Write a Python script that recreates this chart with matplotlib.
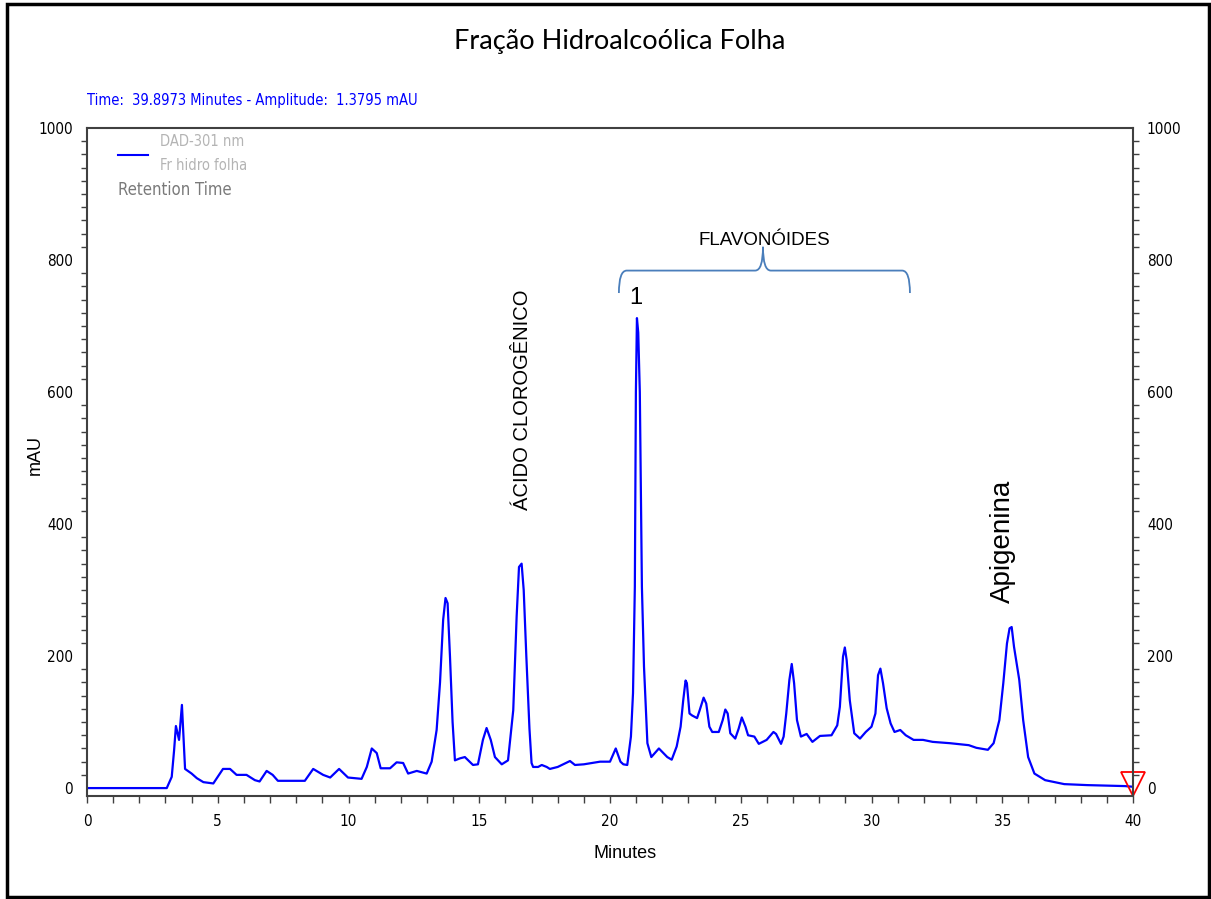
import matplotlib.pyplot as plt
from matplotlib.patches import Rectangle, PathPatch
from matplotlib.path import Path
from matplotlib.ticker import MultipleLocator, FixedLocator

# Cromatograma DAD-301 nm, fraccion hidroalcoolica da folha
tempo = [0, 3.05, 3.24, 3.33, 3.40, 3.52, 3.63, 3.75, 4.0, 4.2, 4.45, 4.83, 5.2, 5.47,
         5.72, 6.1, 6.42, 6.6, 6.87, 7.1, 7.3, 8.33, 8.65, 9.03, 9.3, 9.64, 9.98, 10.5,
         10.7, 10.89, 11.08, 11.23, 11.59, 11.84, 12.09, 12.28, 12.61, 12.99, 13.18,
         13.37, 13.5, 13.62, 13.71, 13.79, 13.88, 13.98, 14.07, 14.26, 14.45, 14.76, 14.95,
         15.14, 15.28, 15.44, 15.6, 15.86, 16.1, 16.3, 16.43, 16.52, 16.62, 16.7, 16.8,
         16.92, 17.0, 17.06, 17.25, 17.39, 17.58, 17.7, 18.0, 18.47, 18.66, 19.0, 19.62,
         20.0, 20.22, 20.4, 20.51, 20.66, 20.8, 20.88, 20.95, 20.99, 21.03, 21.08, 21.14,
         21.22, 21.3, 21.43, 21.58, 21.87, 22.19, 22.36, 22.55, 22.7, 22.8, 22.89, 22.94,
         23.04, 23.14, 23.33, 23.43, 23.58, 23.68, 23.8, 23.91, 24.16, 24.31, 24.41, 24.5,
         24.6, 24.79, 24.92, 25.04, 25.18, 25.28, 25.52, 25.69, 25.99, 26.25, 26.35, 26.54,
         26.64, 26.74, 26.86, 26.95, 27.04, 27.15, 27.3, 27.52, 27.74, 28.03, 28.47, 28.69,
         28.79, 28.91, 28.98, 29.05, 29.17, 29.34, 29.56, 29.78, 30.0, 30.15, 30.25, 30.34,
         30.44, 30.58, 30.73, 30.88, 31.1, 31.31, 31.61, 31.97, 32.34, 33.0, 33.72, 34.01,
         34.45, 34.67, 34.89, 35.04, 35.18, 35.28, 35.36, 35.45, 35.55, 35.65, 35.8, 35.99,
         36.23, 36.64, 37.37, 38.25, 39.7, 40.0]
absorb = [0, 0, 17, 57, 94, 73, 126, 29, 22, 15, 9, 7, 29, 29,
          20, 20, 12, 10, 26, 20, 11, 11, 29, 20, 16, 29, 16, 14,
          32, 60, 53, 30, 30, 39, 38, 22, 26, 22, 40,
          88, 160, 255, 288, 280, 200, 100, 42, 45, 47, 35, 36,
          73, 91, 73, 47, 36, 42, 118, 260, 335, 340, 300, 200,
          90, 38, 32, 32, 35, 32, 29, 32, 41, 35, 36, 40,
          40, 60, 40, 36, 35, 78, 144, 305, 600, 712, 690, 600,
          305, 184, 68, 47, 60, 47, 43, 63, 93, 133, 163, 159,
          113, 110, 106, 118, 137, 128, 93, 85, 85, 103, 119, 113,
          83, 75, 90, 107, 93, 80, 78, 67, 73, 85, 82, 67,
          78, 113, 164, 188, 159, 103, 78, 82, 70, 79, 80, 95,
          123, 199, 213, 194, 133, 83, 75, 85, 93, 113, 171, 181,
          159, 121, 98, 85, 88, 80, 73, 73, 70, 68, 65, 61,
          58, 68, 103, 159, 219, 242, 244, 214, 189, 164, 103, 47,
          22, 12, 6, 4.5, 3, 2]

x_ticks = [0, 5, 10, 15, 20, 25, 30, 35, 40]
y_ticks = [0, 200, 400, 600, 800, 1000]

W, H = 1211, 899
fonte_arial = ['Liberation Sans', 'DejaVu Sans']
estreita = dict(family='DejaVu Sans', stretch='condensed')


def px(x, y):
    # converte pixel (origem em cima) para fracao da figura
    return x / W, 1 - y / H


fig = plt.figure(figsize=(W / 100, H / 100), dpi=100)
ax = fig.add_axes([87 / W, 1 - 796 / H, (1133 - 87) / W, (796 - 128) / H])

ax.plot(tempo, absorb, color='#0000ff', linewidth=1.6)
# marcador vermelho no fim da corrida
ax.plot([40], [6], marker='v', markersize=17, markerfacecolor='none',
        markeredgecolor='red', markeredgewidth=1.3, clip_on=False)

ax.set_xlim(0, 40)
ax.set_ylim(-12, 1000)

ax.xaxis.set_major_locator(FixedLocator(x_ticks))
ax.xaxis.set_minor_locator(MultipleLocator(1))
ax.yaxis.set_major_locator(FixedLocator(y_ticks))
ax.yaxis.set_minor_locator(FixedLocator([v for v in range(20, 1000, 20) if v % 200 != 0]))

ax.tick_params(axis='x', which='both', direction='out', length=5, width=1, color='#404040',
               labelsize=11, pad=8)
ax.tick_params(axis='y', which='major', length=0, labelsize=11, pad=10,
               left=True, right=True, labelleft=True, labelright=True)
ax.tick_params(axis='y', which='minor', length=4, width=1, color='#404040',
               left=True, right=True)
for lab in ax.get_xticklabels() + ax.get_yticklabels():
    lab.set_family('DejaVu Sans')
    lab.set_stretch('condensed')

for s in ax.spines.values():
    s.set_color('#404040')
    s.set_linewidth(1.5)

fig.text(*px(625, 853), 'Minutes', ha='center', va='center', fontsize=13, family=fonte_arial)
fig.text(*px(35, 455), 'mAU', ha='center', va='center', rotation=90, fontsize=13,
         family=fonte_arial)

# anotacoes dos picos
ax.text(16.67, 588, 'ÁCIDO CLOROGÊNICO', rotation=90, ha='center', va='center',
        fontsize=14.5, family=fonte_arial)
ax.text(21.0, 742, '1', ha='center', va='center', fontsize=17, family=fonte_arial)
ax.text(35.03, 374, 'Apigenina', rotation=90, ha='center', va='center',
        fontsize=20, family=fonte_arial)
ax.text(25.9, 830, 'FLAVONÓIDES', ha='center', va='center', fontsize=13.5,
        family=fonte_arial)

# chave sobre os flavonoides
xa, xb, xm = 20.34, 31.47, 25.85
yb, yh, yt = 750, 784, 820
vertices = [(xa, yb), (xa, yh), (xa + 0.3, yh),
            (xm - 0.3, yh), (xm, yh), (xm, yt),
            (xm, yh), (xm + 0.3, yh),
            (xb - 0.3, yh), (xb, yh), (xb, yb)]
codigos = [Path.MOVETO, Path.CURVE3, Path.CURVE3,
           Path.LINETO, Path.CURVE3, Path.CURVE3,
           Path.CURVE3, Path.CURVE3,
           Path.LINETO, Path.CURVE3, Path.CURVE3]
ax.add_patch(PathPatch(Path(vertices, codigos), facecolor='none', edgecolor='#4a7ebb',
                       linewidth=1.3, clip_on=False))

# legenda do software
x0, y0 = px(118, 155)
x1, _ = px(148, 155)
fig.add_artist(plt.Line2D([x0, x1], [y0, y0], color='#0000ff', linewidth=1.5))
fig.text(*px(160, 142), 'DAD-301 nm', color='#b4b4b4', fontsize=10.5, va='center', **estreita)
fig.text(*px(160, 165), 'Fr hidro folha', color='#b4b4b4', fontsize=10.5, va='center', **estreita)
fig.text(*px(118, 190), 'Retention Time', color='#7a7a7a', fontsize=12, va='center', **estreita)

fig.text(*px(87, 100), 'Time:  39.8973 Minutes - Amplitude:  1.3795 mAU', color='#0000ff',
         fontsize=10.5, va='center', **estreita)

fig.text(*px(620, 42), 'Fração Hidroalcoólica Folha', ha='center', va='center',
         fontsize=19.5, family=['Lato', 'DejaVu Sans'])

# moldura externa
fig.add_artist(Rectangle((7 / W, 1 - 897 / H), (1209 - 7) / W, (897 - 4) / H,
                         transform=fig.transFigure, fill=False, edgecolor='black',
                         linewidth=2.5))

fig.savefig('out.png', dpi=100)
